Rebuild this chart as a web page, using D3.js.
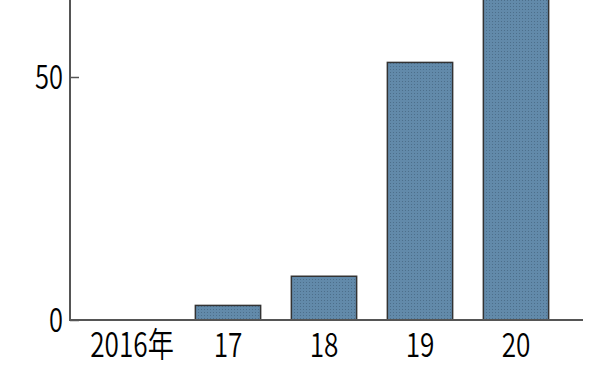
<!DOCTYPE html>
<html>
<head>
<meta charset="utf-8">
<script src="https://cdn.jsdelivr.net/npm/d3@7"></script>
<style>
  body { margin: 0; background: #fff; }
  text { font-family: "Noto Sans CJK JP", "Noto Sans", sans-serif; font-weight: 350; fill: #000; }
</style>
</head>
<body>
<div id="chart"></div>
<script>
const WIDTH = 600;
const HEIGHT = 375;
const SQUEEZE = 0.77; // las etiquetas del original usan una letra estrecha

const years = ["2016年", "17", "18", "19", "20"];
const values = [0, 3, 9, 53, 80];
const yTicks = [0, 50];

const svg = d3.select("#chart")
    .append("svg")
    .attr("width", WIDTH)
    .attr("height", HEIGHT);

// textura punteada de las barras
const pattern = svg.append("defs").append("pattern")
    .attr("id", "dots")
    .attr("width", 3)
    .attr("height", 3)
    .attr("patternUnits", "userSpaceOnUse");
pattern.append("rect").attr("width", 3).attr("height", 3).attr("fill", "#628aaa");
pattern.append("rect").attr("width", 1).attr("height", 1).attr("fill", "#4d6f8b");

const x = d3.scaleBand()
    .domain(years)
    .range([84, 564])
    .paddingInner(0.32)
    .paddingOuter(0.16);

const y = d3.scaleLinear()
    .domain([0, 50])
    .range([320, 77]);

svg.selectAll(".bar")
    .data(years.map((d, i) => ({ year: d, value: values[i] })).filter(d => d.value > 0))
    .enter().append("rect")
    .attr("class", "bar")
    .attr("x", d => x(d.year))
    .attr("y", d => y(d.value))
    .attr("width", x.bandwidth())
    .attr("height", d => y(0) - y(d.value))
    .attr("fill", "url(#dots)")
    .attr("stroke", "#333")
    .attr("stroke-width", 1.5);

// eje y
const yAxis = svg.append("g")
    .attr("transform", "translate(70,0)")
    .call(d3.axisRight(y).tickValues(yTicks).tickSize(9).tickFormat(""));
yAxis.select(".domain").remove();
yAxis.selectAll("line").attr("stroke", "#555").attr("stroke-width", 1.5);

svg.append("line")
    .attr("x1", 70).attr("x2", 70)
    .attr("y1", 0).attr("y2", y(0))
    .attr("stroke", "#555")
    .attr("stroke-width", 2);

svg.selectAll(".ylabel")
    .data(yTicks)
    .enter().append("text")
    .attr("class", "ylabel")
    .attr("transform", d => `translate(63,${y(d)}) scale(${SQUEEZE},1)`)
    .attr("dy", "0.36em")
    .attr("text-anchor", "end")
    .style("font-size", "33px")
    .text(d => d);

// eje x
svg.append("line")
    .attr("x1", 69).attr("x2", 583)
    .attr("y1", y(0)).attr("y2", y(0))
    .attr("stroke", "#555")
    .attr("stroke-width", 2);

svg.selectAll(".xlabel")
    .data(years)
    .enter().append("text")
    .attr("class", "xlabel")
    .attr("transform", d => `translate(${x(d) + x.bandwidth() / 2},357) scale(${SQUEEZE},1)`)
    .attr("text-anchor", "middle")
    .style("font-size", "34px")
    .text(d => d);
</script>
</body>
</html>
